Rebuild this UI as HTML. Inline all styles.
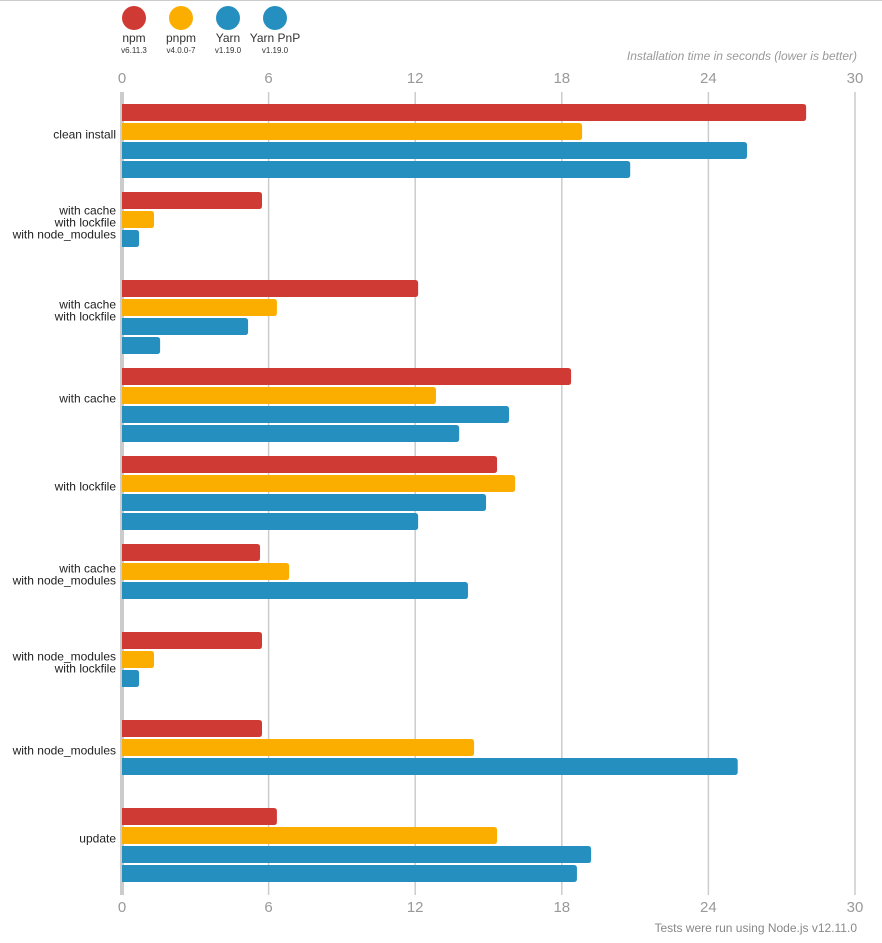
<!DOCTYPE html>
<html><head><meta charset="utf-8"><style>
html,body{margin:0;padding:0;background:#fff;}
body{width:882px;height:938px;overflow:hidden;font-family:"Liberation Sans",sans-serif;border-top:1px solid #ccc;box-sizing:border-box;}
</style></head><body>
<svg id="chart" width="882" height="937" viewBox="0 1 882 937" xmlns="http://www.w3.org/2000/svg" font-family="Liberation Sans, sans-serif"></svg>
<script>
const categories = [["clean install"],["with cache","with lockfile","with node_modules"],["with cache","with lockfile"],["with cache"],["with lockfile"],["with cache","with node_modules"],["with node_modules","with lockfile"],["with node_modules"],["update"]];
const npmValues = [28.0,5.73,12.12,18.38,15.35,5.65,5.73,5.73,6.34];
const pnpmValues = [18.83,1.31,6.34,12.85,16.09,6.84,1.31,14.41,15.35];
const yarnValues = [25.58,0.70,5.16,15.84,14.9,14.16,0.70,25.2,19.2];
const yarnPnpValues = [20.8,null,1.56,13.8,12.12,null,null,null,18.62];
const tickLabels = [0,6,12,18,24,30];
const seriesNames = ["npm","pnpm","Yarn","Yarn PnP"];
const seriesVersions = ["v6.11.3","v4.0.0-7","v1.19.0","v1.19.0"];
const seriesColors = ["#cf3a34","#fbae00","#2590c0","#2590c0"];

const svg = document.getElementById('chart');
const NS = 'http://www.w3.org/2000/svg';
const x0 = 122, x1 = 855, vmax = 30;
const xs = v => x0 + v / vmax * (x1 - x0);
const groupTop = i => 104 + i * 88;
const barY = (g, s) => groupTop(g) + s * 19;
function mk(tag, attrs, parent) {
  const e = document.createElementNS(NS, tag);
  for (const k in attrs) e.setAttribute(k, attrs[k]);
  (parent || svg).appendChild(e);
  return e;
}
tickLabels.forEach(t => {
  const g = mk('line', {x1: xs(t), x2: xs(t), y1: 92, y2: 895, stroke: '#ccc', 'stroke-width': t === 0 ? 4 : 1.5});
  
  
  [77, 906].forEach((y, i) => {
    const tx = mk('text', {x: xs(t), y: y + 6, 'text-anchor': 'middle', 'font-size': 15, fill: '#999'});
    tx.textContent = t;
    
    
  });
});
const allSeries = [npmValues, pnpmValues, yarnValues, yarnPnpValues];
allSeries.forEach((vals, s) => {
  vals.forEach((v, g) => {
    if (v == null) return;
    const w = xs(v) - x0;
    const y = barY(g, s);
    const p = mk('path', {d: `M${x0},${y} h${w-3} q3,0 3,3 v11 q0,3 -3,3 h${-(w-3)} z`, fill: seriesColors[s]});
    
    
  });
});
categories.forEach((lines, g) => {
  const center = groupTop(g) + 30.5;
  const lh = 12;
  const startY = center - (lines.length - 1) * lh / 2 + 4;
  const t = mk('text', {'text-anchor': 'end', 'font-size': 12, fill: '#222'});
  
  
  lines.forEach((l, i) => {
    const ts = mk('tspan', {x: 116, y: startY + i * lh}, t);
    ts.textContent = l;
  });
});
const legendX = [134, 181, 228, 275];
seriesNames.forEach((n, i) => {
  const c = mk('circle', {cx: legendX[i], cy: 18, r: 12, fill: seriesColors[i]});
  
  
  const t = mk('text', {x: legendX[i], y: 42, 'text-anchor': 'middle', 'font-size': 12, fill: '#333'});
  t.textContent = n;
  
  
  const v = mk('text', {x: legendX[i], y: 53, 'text-anchor': 'middle', 'font-size': 8, fill: '#333'});
  v.textContent = seriesVersions[i];
  
  
});
const at = mk('text', {x: 857, y: 60, 'text-anchor': 'end', 'font-size': 12, 'font-style': 'italic', fill: '#999'});
at.textContent = 'Installation time in seconds (lower is better)';


const ft = mk('text', {x: 857, y: 932, 'text-anchor': 'end', 'font-size': 12, fill: '#888'});
ft.textContent = 'Tests were run using Node.js v12.11.0';


</script>
</body></html>
